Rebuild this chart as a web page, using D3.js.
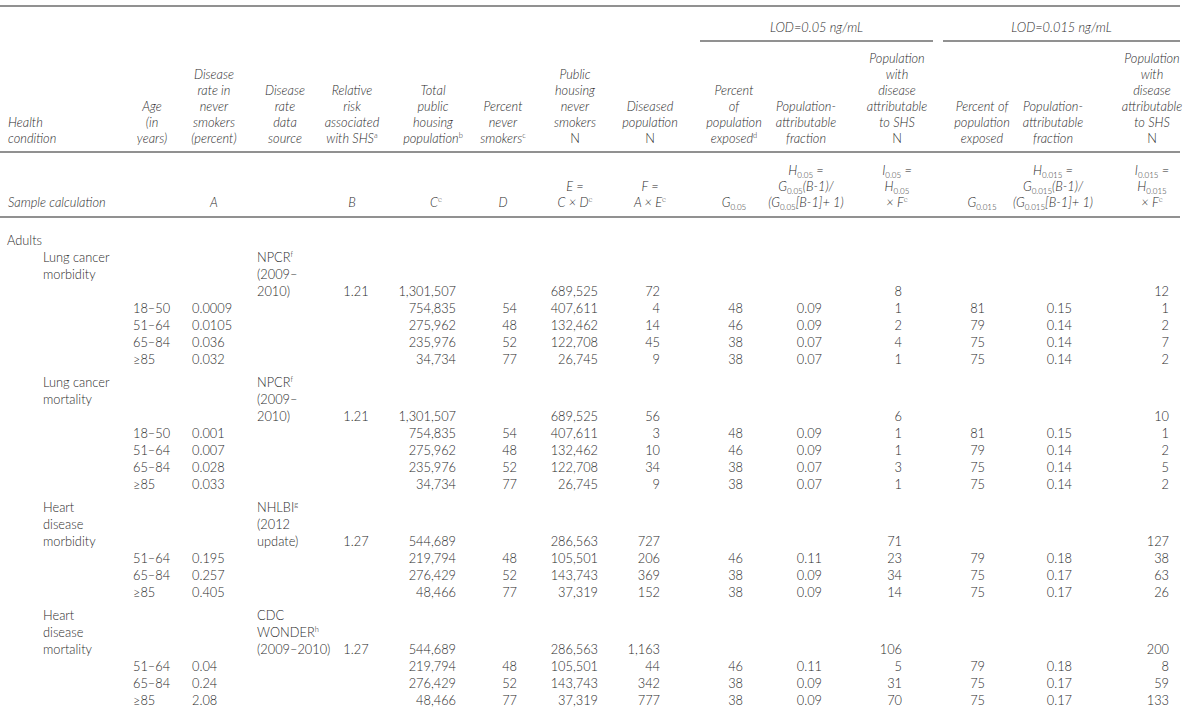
<!DOCTYPE html>
<html>
<head>
<meta charset="utf-8">
<script src="https://cdn.jsdelivr.net/npm/d3@7"></script>
<style>
  body { margin: 0; background: #fff; }
  svg { display: block; }
</style>
</head>
<body>
<div id="chart"></div>
<script>
// ---- data ----
const colKeys = ["cond", "age", "rate", "source", "rr", "C", "D", "E", "F", "G05", "H05", "I05", "G015", "H015", "I015"];

const headerLabels = [
  ["Health", "condition"],
  ["Age", "(in", "years)"],
  ["Disease", "rate in", "never", "smokers", "(percent)"],
  ["Disease", "rate", "data", "source"],
  ["Relative", "risk", "associated", "with SHS^a"],
  ["Total", "public", "housing", "population^b"],
  ["Percent", "never", "smokers^c"],
  ["Public", "housing", "never", "smokers", "!N"],
  ["Diseased", "population", "!N"],
  ["Percent", "of", "population", "exposed^d"],
  ["Population-", "attributable", "fraction"],
  ["Population", "with", "disease", "attributable", "to SHS", "!N"],
  ["Percent of", "population", "exposed"],
  ["Population-", "attributable", "fraction"],
  ["Population", "with", "disease", "attributable", "to SHS", "!N"]
];

const sampleCalc = [
  ["Sample calculation"],
  [],
  ["A"],
  [],
  ["B"],
  ["C^e"],
  ["D"],
  ["E =", "C × D^e"],
  ["F =", "A × E^e"],
  ["G_{0.05}"],
  ["H_{0.05} =", "G_{0.05}(B-1)/", "(G_{0.05}[B-1]+ 1)"],
  ["I_{0.05} =", "H_{0.05}", "× F^e"],
  ["G_{0.015}"],
  ["H_{0.015} =", "G_{0.015}(B-1)/", "(G_{0.015}[B-1]+ 1)"],
  ["I_{0.015} =", "H_{0.015}", "× F^e"]
];

const lodGroups = ["LOD=0.05 ng/mL", "LOD=0.015 ng/mL"];

const conditionLines = [
  ["Lung cancer", "morbidity"],
  ["Lung cancer", "mortality"],
  ["Heart", "disease", "morbidity"],
  ["Heart", "disease", "mortality"]
];
const sourceLines = [
  ["NPCR^f", "(2009–", "2010)"],
  ["NPCR^f", "(2009–", "2010)"],
  ["NHLBI^g", "(2012", "update)"],
  ["CDC", "WONDER^h", "(2009–2010)"]
];
const relativeRisk = [1.21, 1.21, 1.27, 1.27];
const totalPop = [1301507, 1301507, 544689, 544689];
const totalNeverSmokers = [689525, 689525, 286563, 286563];
const totalDiseased = [72, 56, 727, 1163];
const totalAttr05 = [8, 6, 71, 106];
const totalAttr015 = [12, 10, 127, 200];

const ageGroups = [
  ["18–50", "51–64", "65–84", "≥85"],
  ["18–50", "51–64", "65–84", "≥85"],
  ["51–64", "65–84", "≥85"],
  ["51–64", "65–84", "≥85"]
];
const diseaseRate = [
  ["0.0009", "0.0105", "0.036", "0.032"],
  ["0.001", "0.007", "0.028", "0.033"],
  ["0.195", "0.257", "0.405"],
  ["0.04", "0.24", "2.08"]
];
const agePop = [
  [754835, 275962, 235976, 34734],
  [754835, 275962, 235976, 34734],
  [219794, 276429, 48466],
  [219794, 276429, 48466]
];
const pctNeverSmokers = [
  [54, 48, 52, 77],
  [54, 48, 52, 77],
  [48, 52, 77],
  [48, 52, 77]
];
const neverSmokers = [
  [407611, 132462, 122708, 26745],
  [407611, 132462, 122708, 26745],
  [105501, 143743, 37319],
  [105501, 143743, 37319]
];
const diseased = [
  [4, 14, 45, 9],
  [3, 10, 34, 9],
  [206, 369, 152],
  [44, 342, 777]
];
const exposed05 = [
  [48, 46, 38, 38],
  [48, 46, 38, 38],
  [46, 38, 38],
  [46, 38, 38]
];
const paf05 = [
  ["0.09", "0.09", "0.07", "0.07"],
  ["0.09", "0.09", "0.07", "0.07"],
  ["0.11", "0.09", "0.09"],
  ["0.11", "0.09", "0.09"]
];
const attr05 = [
  [1, 2, 4, 1],
  [1, 1, 3, 1],
  [23, 34, 14],
  [5, 31, 70]
];
const exposed015 = [
  [81, 79, 75, 75],
  [81, 79, 75, 75],
  [79, 75, 75],
  [79, 75, 75]
];
const paf015 = [
  ["0.15", "0.14", "0.14", "0.14"],
  ["0.15", "0.14", "0.14", "0.14"],
  ["0.18", "0.17", "0.17"],
  ["0.18", "0.17", "0.17"]
];
const attr015 = [
  [1, 2, 7, 2],
  [1, 2, 5, 2],
  [38, 63, 26],
  [8, 59, 133]
];

// ---- layout ----
const width = 1200, height = 713;
const ink = "#2b2b2b";
const fontFamily = "Lato, 'Open Sans', sans-serif";
const fmt = d3.format(",");

// header centres per column
const headX = d3.scaleOrdinal().domain(colKeys)
  .range([8, 152, 214, 285, 352, 433, 503, 575, 650, 734, 806, 897, 982, 1053, 1152]);
const headAnchor = k => k === "cond" ? "start" : "middle";

// body anchor positions per column
const bodyX = d3.scaleOrdinal().domain(colKeys)
  .range([43, 133, 192, 257, 356, 456, 517, 598, 660, 743, 822, 902, 985, 1072, 1169]);
const bodyAnchor = d3.scaleOrdinal().domain(colKeys)
  .range(["start", "start", "start", "start", "middle", "end", "end", "end", "end", "end", "end", "end", "end", "end", "end"]);

// row slots -> y
const lineH = 17, gapH = 6;
const y = d3.scaleLinear().domain([0, 1]).range([240, 240 + lineH]);
const headY = d3.scaleLinear().domain([0, 1]).range([138, 138 - 16]); // lines counted from bottom

const svg = d3.select("#chart").append("svg")
  .attr("width", width)
  .attr("height", height)
  .attr("font-family", fontFamily)
  .attr("font-size", 12.8)
  .attr("font-weight", 300)
  .attr("fill", ink);

// rich text: ^x superscript, _{..} subscript, leading ! = upright
function rich(textSel, str) {
  const upright = str.startsWith("!");
  if (upright) { str = str.slice(1); textSel.attr("font-style", "normal"); }
  const re = /(\^[a-z])|(_\{[^}]*\})/g;
  let last = 0, shift = 0, m;
  const push = (t, size, target) => {
    const ts = textSel.append("tspan").text(t);
    if (size) ts.attr("font-size", size).attr("font-style", "normal");
    if (target !== shift) { ts.attr("dy", target - shift); shift = target; }
  };
  while ((m = re.exec(str)) !== null) {
    if (m.index > last) push(str.slice(last, m.index), null, 0);
    if (m[1]) push(m[1].slice(1), 7.5, -4.5);
    else push(m[2].slice(2, -1), 8, 3);
    last = re.lastIndex;
  }
  if (last < str.length) push(str.slice(last), null, 0);
}

// rules
const rules = svg.append("g").attr("stroke", "#6d6d6d").attr("stroke-width", 1.3);
[6, 152, 217].forEach(ry => {
  rules.append("line").attr("x1", 0).attr("x2", 1180).attr("y1", ry).attr("y2", ry);
});
const lodSpans = [[700, 933], [943, 1180]];
lodSpans.forEach(([a, b]) => {
  rules.append("line").attr("x1", a).attr("x2", b).attr("y1", 41).attr("y2", 41);
});

// LOD group labels
svg.append("g").selectAll("text")
  .data(lodGroups)
  .join("text")
  .attr("x", (d, i) => (lodSpans[i][0] + lodSpans[i][1]) / 2)
  .attr("y", 27)
  .attr("dy", "0.36em")
  .attr("text-anchor", "middle")
  .attr("font-style", "italic")
  .text(d => d);

// column headers (bottom aligned)
const headG = svg.append("g").attr("font-style", "italic");
colKeys.forEach((k, ci) => {
  const lines = headerLabels[ci];
  lines.forEach((ln, li) => {
    const t = headG.append("text")
      .attr("x", headX(k))
      .attr("y", headY(lines.length - 1 - li))
      .attr("dy", "0.36em")
      .attr("text-anchor", headAnchor(k));
    rich(t, ln);
  });
});

// sample calculation row (bottom aligned at 202)
const calcY = d3.scaleLinear().domain([0, 1]).range([202, 202 - 16]);
const calcG = svg.append("g").attr("font-style", "italic");
colKeys.forEach((k, ci) => {
  const lines = sampleCalc[ci];
  lines.forEach((ln, li) => {
    const t = calcG.append("text")
      .attr("x", headX(k) + (k === "C" ? 3 : 0))
      .attr("y", calcY(lines.length - 1 - li))
      .attr("dy", "0.36em")
      .attr("text-anchor", headAnchor(k));
    rich(t, ln);
  });
});

// body cells
const cells = [];
cells.push({slot: 0, key: "adults", text: "Adults"});
let slot = 1;
conditionLines.forEach((cl, c) => {
  if (c > 0) slot += gapH / lineH;
  cl.forEach((ln, i) => cells.push({slot: slot + i, key: "cond", text: ln}));
  sourceLines[c].forEach((ln, i) => cells.push({slot: slot + i, key: "source", text: ln}));
  const tot = slot + 2;
  cells.push({slot: tot, key: "rr", text: String(relativeRisk[c])});
  cells.push({slot: tot, key: "C", text: fmt(totalPop[c])});
  cells.push({slot: tot, key: "E", text: fmt(totalNeverSmokers[c])});
  cells.push({slot: tot, key: "F", text: fmt(totalDiseased[c])});
  cells.push({slot: tot, key: "I05", text: fmt(totalAttr05[c])});
  cells.push({slot: tot, key: "I015", text: fmt(totalAttr015[c])});
  slot += 3;
  ageGroups[c].forEach((ag, a) => {
    const s = slot + a;
    cells.push({slot: s, key: "age", text: ag});
    cells.push({slot: s, key: "rate", text: diseaseRate[c][a]});
    cells.push({slot: s, key: "C", text: fmt(agePop[c][a])});
    cells.push({slot: s, key: "D", text: String(pctNeverSmokers[c][a])});
    cells.push({slot: s, key: "E", text: fmt(neverSmokers[c][a])});
    cells.push({slot: s, key: "F", text: fmt(diseased[c][a])});
    cells.push({slot: s, key: "G05", text: String(exposed05[c][a])});
    cells.push({slot: s, key: "H05", text: paf05[c][a]});
    cells.push({slot: s, key: "I05", text: fmt(attr05[c][a])});
    cells.push({slot: s, key: "G015", text: String(exposed015[c][a])});
    cells.push({slot: s, key: "H015", text: paf015[c][a]});
    cells.push({slot: s, key: "I015", text: fmt(attr015[c][a])});
  });
  slot += ageGroups[c].length;
});

const bodyG = svg.append("g");
bodyG.selectAll("text")
  .data(cells)
  .join("text")
  .attr("x", d => d.key === "adults" ? 7 : bodyX(d.key))
  .attr("y", d => y(d.slot))
  .attr("dy", "0.36em")
  .attr("text-anchor", d => d.key === "adults" ? "start" : bodyAnchor(d.key))
  .each(function(d) { rich(d3.select(this), d.text); });
</script>
</body>
</html>
